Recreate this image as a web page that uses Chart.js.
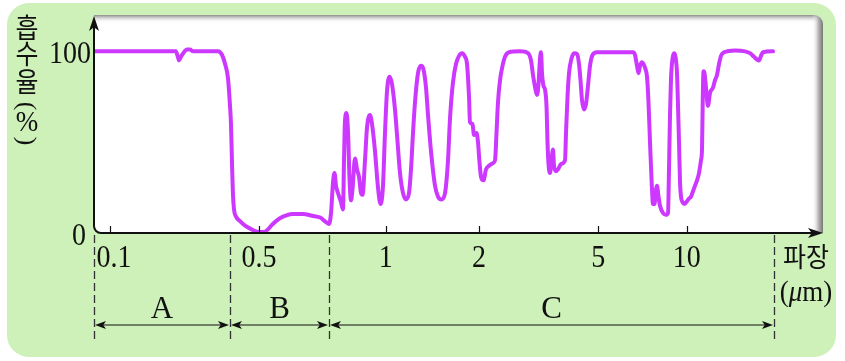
<!DOCTYPE html>
<html><head><meta charset="utf-8">
<script src="https://cdn.jsdelivr.net/npm/chart.js@4.4.1/dist/chart.umd.min.js"></script>
<style>html,body{margin:0;padding:0;background:#fff;overflow:hidden}canvas{display:block}</style>
</head><body><canvas id="c" width="845" height="361"></canvas>
<script>
// ---- data ----
const WAVELENGTH = [
0.0831,0.214,0.219,0.222,0.227,0.235,0.243,0.252,0.261,0.348,0.365,0.378,0.391,0.400,0.403,0.406,0.409,0.4125,0.419,0.432,0.449,0.467,0.485,
0.502,0.515,0.522,0.532,0.545,0.561,0.586,0.618,0.645,0.671,0.690,0.700,
0.709,0.718,0.7246,0.7315,0.7408,0.7549,0.7644,0.7693,0.7741,0.7815,0.7889,0.7964,0.8039,0.8115,0.8244,0.8348,0.8454,0.8561,0.8642,0.8779,0.8890,0.9060,0.9203,0.9349,0.9527,0.9678,0.9831,0.9955,
1.0097,1.0286,1.0479,1.0715,1.0877,1.1121,1.1371,1.1628,1.1890,1.2068,1.2249,1.2432,1.2712,1.2999,1.3242,1.3491,1.3693,1.4001,1.4424,1.4749,1.5137,1.5537,1.5886,1.6124,1.6486,1.6858,1.7238,1.7627,1.8024,1.8296,1.8570,1.8706,1.9057,1.9271,1.9632,1.9852,
2.0077,2.0309,2.0703,2.1105,2.1597,2.2271,2.2619,2.2877,2.3142,2.3500,2.3956,2.4420,2.5182,2.7402,2.9139,2.9818,3.0282,3.0867,3.1227,3.1589,3.1956,3.2202,3.2450,3.2825,3.3205,3.3590,3.3849,3.4110,3.4505,3.4905,3.5309,3.5581,3.6133,3.6692,3.7547,3.8720,3.9018,3.9470,3.9926,4.0702,4.1489,4.2460,4.3114,4.3615,4.4120,4.4805,4.5497,4.6199,4.6911,4.7821,4.9503,
6.5636,6.6674,6.7725,6.8530,6.9341,7.0436,7.2109,7.3248,7.4117,7.4994,7.5882,7.6782,7.7693,7.8612,7.9232,8.0168,8.1115,8.3043,8.5020,8.6364,8.7045,8.7731,8.8423,8.9469,9.0528,9.1598,9.2681,9.3411,9.4147,9.4889,9.5637,9.6768,9.8297,
10.024,10.184,10.347,10.513,10.681,10.852,11.026,11.202,11.292,11.364,11.427,11.518,11.656,11.842,12.032,12.321,12.518,12.719,12.923,13.130,13.445,14.674,15.887,16.530,17.063,17.475,17.755,18.039,18.328,19.842
];
const ABSORPTION = [
100,100,97,95,97,99.5,101,101,100,100,98,93,85,70,60,40,22,13,9,6.5,4,2.5,1,
0.5,0.8,2,4.5,7,9,10.5,10.5,9.5,8.5,6,5,
11,28,33,26,22,17,13,40,62,66,56,30,18,24,41,35,31,22,21,40,58,65,58,45,25,16,26,55,
78,86,82,68,54,33,22,18.5,22,35,55,72,88,92,90,80,65,45,26,20,18.5,22,40,63,83,93,97.5,99,97,93,75,61,60,54,55,50,
39,31,29,35,37,38.5,40,55,72,84,92,97,99.5,100,99,95,87,79,76,82,96,99.5,88,81,79,70,50,38,33,40,46,37,34,35,38,40,55,75,88,96,99,98.5,93,84,73,68,71,81,92,98,99.5,
99.5,98,92,88,92,94,91,86,72,50,30,16,16,24,26,20,15,11,10,11,35,65,85,96,99,97,88,70,50,28,20,17,16,
17.5,19,20,23,26,29,33,40,46,75,89,88,80,70,77,80,84,87,93,97.5,99.5,100.5,100,99,97,95.5,95,97.5,99.5,100
];
const X_TICKS = [0.1, 0.5, 1, 2, 5, 10];
const X_TICK_LABELS = ['0.1', '0.5', '1', '2', '5', '10'];
const Y_TICKS = [0, 100];
const Y_TICK_LABELS = ['0', '100'];
const REGION_LABELS = ['A', 'B', 'C'];
const REGION_EDGES = [0.083, 0.4, 0.7, 20];
const Y_TITLE = '흡수율(%)';
const X_TITLE = '파장';
const X_UNIT = 'μm';

// ---- axis layout (schematic wavelength axis: knots and their fractional positions) ----
const AXIS_KNOTS = [0.083, 0.1, 0.4, 0.5, 0.7, 1, 2, 5, 10, 20, 29.28];
const AXIS_KNOT_POS = [0, 0.021978, 0.186813, 0.226648, 0.322802, 0.400687, 0.528846, 0.692720, 0.814148, 0.934066, 1];

class KnotScale extends Chart.LinearScale {
  getPixelForValue(v) {
    const lv = Math.log(v);
    let i = 0;
    while (i < AXIS_KNOTS.length - 2 && lv > Math.log(AXIS_KNOTS[i + 1])) i++;
    const a = Math.log(AXIS_KNOTS[i]), b = Math.log(AXIS_KNOTS[i + 1]);
    const f = AXIS_KNOT_POS[i] + (lv - a) / (b - a) * (AXIS_KNOT_POS[i + 1] - AXIS_KNOT_POS[i]);
    return this.getPixelForDecimal(f);
  }
  getValueForPixel(p) {
    const f = this.getDecimalForPixel(p);
    let i = 0;
    while (i < AXIS_KNOT_POS.length - 2 && f > AXIS_KNOT_POS[i + 1]) i++;
    const a = Math.log(AXIS_KNOTS[i]), b = Math.log(AXIS_KNOTS[i + 1]);
    const t = (f - AXIS_KNOT_POS[i]) / (AXIS_KNOT_POS[i + 1] - AXIS_KNOT_POS[i]);
    return Math.exp(a + t * (b - a));
  }
}
KnotScale.id = 'knot';
KnotScale.defaults = Chart.LinearScale.defaults;
Chart.register(KnotScale);

const SERIF = '"Liberation Serif", "DejaVu Serif", serif';
const KR = '"Noto Sans CJK KR", "Noto Sans", sans-serif';

function rrect(ctx, x, y, w, h, r) { // r: [tl,tr,br,bl]
  ctx.beginPath();
  ctx.moveTo(x + r[0], y);
  ctx.lineTo(x + w - r[1], y); ctx.arcTo(x + w, y, x + w, y + r[1], r[1]);
  ctx.lineTo(x + w, y + h - r[2]); ctx.arcTo(x + w, y + h, x + w - r[2], y + h, r[2]);
  ctx.lineTo(x + r[3], y + h); ctx.arcTo(x, y + h, x, y + h - r[3], r[3]);
  ctx.lineTo(x, y + r[0]); ctx.arcTo(x, y, x + r[0], y, r[0]);
  ctx.closePath();
}
function arrowHead(ctx, tx, ty, dx, dy, len, hw) {
  const px = -dy, py = dx;
  ctx.beginPath();
  ctx.moveTo(tx, ty);
  ctx.lineTo(tx - dx * len + px * hw, ty - dy * len + py * hw);
  ctx.lineTo(tx - dx * len * 0.75, ty - dy * len * 0.75);
  ctx.lineTo(tx - dx * len - px * hw, ty - dy * len - py * hw);
  ctx.closePath();
  ctx.fill();
}
// vertically stretched text (reference glyphs are tall)
function tallText(ctx, txt, x, y, sy) {
  ctx.save();
  ctx.translate(x, y); ctx.scale(1, sy);
  ctx.fillText(txt, 0, 0);
  ctx.restore();
}

const decor = {
  id: 'decor',
  beforeDraw(chart) {
    const ctx = chart.ctx, a = chart.chartArea;
    ctx.save();
    ctx.fillStyle = '#ffffff';
    ctx.fillRect(0, 0, chart.width, chart.height);
    ctx.fillStyle = '#cef0b9';
    rrect(ctx, 7, 3, 829, 354, [22, 22, 22, 22]);
    ctx.fill();
    const L = a.left, T = a.top, R = a.right + 1, B = a.bottom;
    rrect(ctx, L, T, R - L, B - T, [0, 9, 0, 8]);
    ctx.save();
    ctx.clip();
    ctx.fillStyle = '#ffffff';
    ctx.fillRect(L, T, R - L, B - T);
    let g = ctx.createLinearGradient(0, T, 0, T + 8);
    g.addColorStop(0, 'rgba(120,120,120,0.85)');
    g.addColorStop(1, 'rgba(255,255,255,0)');
    ctx.fillStyle = g; ctx.fillRect(L, T, R - L, 8);
    g = ctx.createLinearGradient(R - 11, 0, R, 0);
    g.addColorStop(0, 'rgba(255,255,255,0)');
    g.addColorStop(0.6, 'rgba(160,160,160,0.8)');
    g.addColorStop(1, 'rgba(110,110,110,0.95)');
    ctx.fillStyle = g; ctx.fillRect(R - 11, T, 11, B - T);
    ctx.restore();
    ctx.restore();
  },
  afterDatasetsDraw(chart) {
    const ctx = chart.ctx, a = chart.chartArea, xs = chart.scales.x, ys = chart.scales.y;
    const L = a.left, B = a.bottom;
    ctx.save();
    ctx.strokeStyle = '#111'; ctx.fillStyle = '#111';
    ctx.lineWidth = 2;
    ctx.beginPath();
    ctx.moveTo(L, a.top + 10);
    ctx.lineTo(L, B - 7);
    ctx.arcTo(L, B, L + 7, B, 7);
    ctx.lineTo(a.right - 10, B);
    ctx.stroke();
    arrowHead(ctx, L, a.top + 1, 0, -1, 15, 5);
    arrowHead(ctx, a.right + 1, B, 1, 0, 15, 5);
    ctx.lineWidth = 1.2;
    X_TICKS.forEach(v => {
      const x = Math.round(xs.getPixelForValue(v)) + 0.5;
      ctx.beginPath(); ctx.moveTo(x, B - 7); ctx.lineTo(x, B); ctx.stroke();
    });
    ctx.font = '28px ' + SERIF;
    ctx.textAlign = 'center'; ctx.textBaseline = 'alphabetic';
    X_TICKS.forEach((v, i) => {
      const x = xs.getPixelForValue(v) + (i === 0 ? 4 : 0);
      tallText(ctx, X_TICK_LABELS[i], x, 267, 1.12);
    });
    ctx.textAlign = 'right';
    Y_TICKS.forEach((v, i) => {
      tallText(ctx, Y_TICK_LABELS[i], v === 0 ? 86 : 91, ys.getPixelForValue(v) + 11.5, 1.12);
    });
    // y title (vertical, stacked)
    ctx.textAlign = 'center'; ctx.textBaseline = 'middle';
    const yPos = [28, 54, 82, 106, 123, 141];
    Array.from(Y_TITLE).forEach((ch, i) => {
      const y = yPos[i];
      if (ch === '(' || ch === ')') {
        ctx.save();
        ctx.translate(27, y); ctx.rotate(Math.PI / 2);
        ctx.font = '26px ' + SERIF;
        ctx.fillText(ch, 0, 1);
        ctx.restore();
      } else if (ch === '%') {
        ctx.font = '27px ' + SERIF;
        tallText(ctx, ch, 27, y, 1.1);
      } else {
        ctx.font = '25px ' + KR;
        tallText(ctx, ch, 27, y, 1.1);
      }
    });
    // x title
    ctx.font = '25px ' + KR;
    ctx.textAlign = 'center'; ctx.textBaseline = 'middle';
    tallText(ctx, X_TITLE, 806, 257, 1.08);
    ctx.textBaseline = 'alphabetic';
    const f1 = '27px ' + SERIF, f2 = 'italic 27px ' + SERIF;
    const parts = [['(', f1], [X_UNIT.slice(0, 1), f2], [X_UNIT.slice(1) + ')', f1]];
    let tw = 0;
    parts.forEach(p => { ctx.font = p[1]; tw += ctx.measureText(p[0]).width; });
    let cx = 806 - tw / 2;
    ctx.textAlign = 'left';
    parts.forEach(p => { ctx.font = p[1]; tallText(ctx, p[0], cx, 301, 1.08); cx += ctx.measureText(p[0]).width; });
    // region dashed lines
    const ex = REGION_EDGES.map(v => xs.getPixelForValue(v));
    ctx.strokeStyle = '#333';
    ctx.lineWidth = 1.3;
    ctx.setLineDash([8, 4]);
    ex.forEach(x => {
      const xx = Math.round(x) + 0.5;
      ctx.beginPath(); ctx.moveTo(xx, B + 2); ctx.lineTo(xx, 343); ctx.stroke();
    });
    ctx.setLineDash([]);
    const ay = 325;
    ctx.strokeStyle = '#111'; ctx.fillStyle = '#111';
    ctx.lineWidth = 1.2;
    ctx.font = '31px ' + SERIF;
    ctx.textAlign = 'center'; ctx.textBaseline = 'alphabetic';
    REGION_LABELS.forEach((lab, i) => {
      const x0 = ex[i] + 1, x1 = ex[i + 1] - 1;
      ctx.beginPath(); ctx.moveTo(x0 + 4, ay); ctx.lineTo(x1 - 4, ay); ctx.stroke();
      arrowHead(ctx, x0, ay, -1, 0, 11, 4);
      arrowHead(ctx, x1, ay, 1, 0, 11, 4);
      ctx.fillText(lab, (ex[i] + ex[i + 1]) / 2, 318);
    });
    ctx.restore();
  }
};

const points = WAVELENGTH.map((w, i) => ({ x: w, y: ABSORPTION[i] }));

new Chart(document.getElementById('c'), {
  type: 'line',
  data: {
    datasets: [{
      data: points,
      borderColor: 'rgb(204,56,255)',
      borderWidth: 4,
      pointRadius: 0,
      fill: false,
      cubicInterpolationMode: 'monotone',
      borderCapStyle: 'round',
      borderJoinStyle: 'round'
    }]
  },
  options: {
    responsive: false,
    animation: false,
    devicePixelRatio: 1,
    layout: { padding: { left: 94, right: 23, top: 15, bottom: 128 } },
    plugins: { legend: { display: false }, tooltip: { enabled: false } },
    scales: {
      x: { type: 'knot', min: 0.083, max: 29.28, display: false },
      y: { type: 'linear', min: 0, max: 120, display: false }
    }
  },
  plugins: [decor]
});
</script>
</body></html>
